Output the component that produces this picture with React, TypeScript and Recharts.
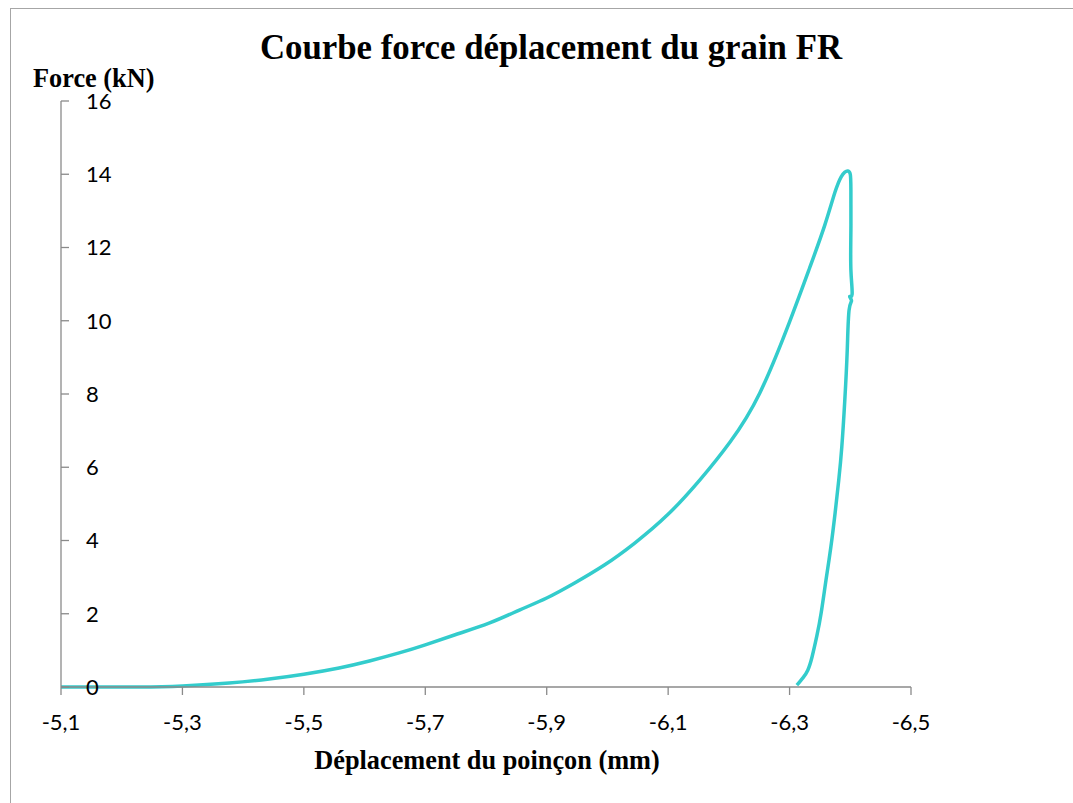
import React from "react";
import { LineChart, Line, XAxis, YAxis } from "recharts";

const xValues: number[] = [
  -5.1, -5.229, -5.3, -5.377, -5.443, -5.5, -5.558, -5.608, -5.657, -5.7,
  -5.748, -5.806, -5.855, -5.9, -5.946, -5.995, -6.045, -6.099, -6.152, -6.202,
  -6.251, -6.3, -6.333, -6.358, -6.375, -6.385, -6.391, -6.396, -6.4, -6.401,
  -6.401, -6.401, -6.403, -6.399, -6.402, -6.398, -6.395, -6.391, -6.386, -6.381,
  -6.375, -6.368, -6.36, -6.352, -6.345, -6.337, -6.33, -6.322, -6.312,
];
const forceValues: number[] = [
  0, 0, 0.03, 0.11, 0.22, 0.35, 0.52, 0.71, 0.93, 1.15,
  1.42, 1.75, 2.1, 2.43, 2.84, 3.33, 3.93, 4.7, 5.65, 6.69,
  8.03, 9.97, 11.44, 12.61, 13.52, 13.93, 14.06, 14.09, 14.0, 13.57,
  12.48, 11.39, 10.72, 10.66, 10.55, 10.29, 9.2, 7.84, 6.55, 5.65,
  4.75, 3.82, 2.92, 2.02, 1.4, 0.82, 0.46, 0.25, 0.05,
];
const xTicks: number[] = [-5.1, -5.3, -5.5, -5.7, -5.9, -6.1, -6.3, -6.5];
const yTicks: number[] = [0, 2, 4, 6, 8, 10, 12, 14, 16];

const chartTitle = "Courbe force déplacement du grain FR";
const xTitle = "Déplacement du poinçon (mm)";
const yTitle = "Force (kN)";

const data = xValues.map((x, i) => ({ x, f: forceValues[i] }));

const W = 1073;
const H = 803;
const axisColor = "#8a8a8a";
const tickFamily = "Lato, 'Open Sans', sans-serif";
const serifBold = "'Liberation Serif', 'Times New Roman', serif";

const fmt = (v: number) => (v === 0 ? "0" : v.toFixed(1).replace(".", ","));

function XTick(props: any) {
  const { x, y, payload } = props;
  return (
    <text x={x} y={y} dy="0.71em" textAnchor="middle" fontFamily={tickFamily} fontSize={22} fill="#000">
      {fmt(payload.value)}
    </text>
  );
}

function YTick(props: any) {
  const { x, y, payload } = props;
  return (
    <text x={x} y={y} dy="0.36em" textAnchor="start" fontFamily={tickFamily} fontSize={22} fill="#000">
      {String(payload.value)}
    </text>
  );
}

export default function App() {
  return (
    <div style={{ position: "absolute", left: 0, top: 0, width: W, height: H, overflow: "hidden", background: "#fff" }}>
      <div
        style={{
          position: "absolute",
          left: 10,
          top: 8,
          width: W + 20,
          height: H + 20,
          border: "1px solid #a6a6a6",
          boxSizing: "border-box",
        }}
      />
      <div style={{ position: "absolute", left: 0, top: 0 }}>
        <LineChart
          width={W}
          height={H}
          data={data}
          margin={{ top: 101, right: 162, bottom: 86, left: 61 }}
        >
          <XAxis
            type="number"
            dataKey="x"
            domain={[-6.5, -5.1]}
            reversed
            ticks={xTicks}
            interval={0}
            height={30}
            allowDataOverflow
            stroke={axisColor}
            strokeWidth={1.3}
            tickSize={8}
            tickMargin={19}
            tick={<XTick />}
          />
          <YAxis
            type="number"
            domain={[0, 16]}
            ticks={yTicks}
            interval={0}
            width={1}
            mirror
            stroke={axisColor}
            strokeWidth={1.3}
            tickSize={8}
            tickMargin={17}
            tick={<YTick />}
          />
          <Line
            dataKey="f"
            type="natural"
            stroke="#33CCCC"
            strokeWidth={3.5}
            dot={false}
            isAnimationActive={false}
          />
        </LineChart>
      </div>
      <svg width={W} height={H} style={{ position: "absolute", left: 0, top: 0, pointerEvents: "none" }}>
        <text x={551} y={59} textAnchor="middle" fontFamily={serifBold} fontWeight="bold" fontSize={34.8} fill="#000">
          {chartTitle}
        </text>
        <text x={33} y={87} textAnchor="start" fontFamily={serifBold} fontWeight="bold" fontSize={26.3} fill="#000">
          {yTitle}
        </text>
        <text x={487} y={769} textAnchor="middle" fontFamily={serifBold} fontWeight="bold" fontSize={26.3} fill="#000">
          {xTitle}
        </text>
      </svg>
    </div>
  );
}
